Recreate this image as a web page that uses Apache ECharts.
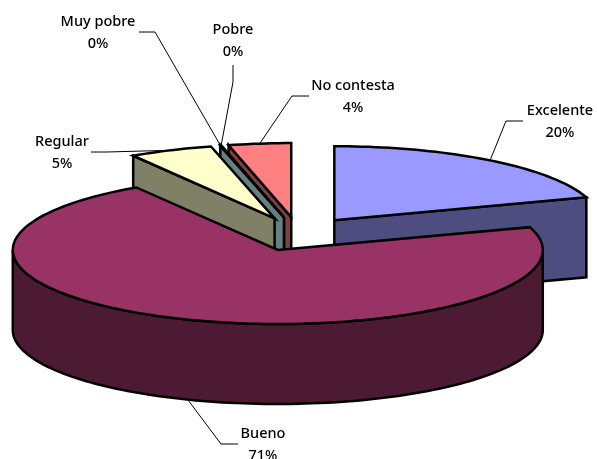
<!DOCTYPE html>
<html><head><meta charset="utf-8">
<style>html,body{margin:0;padding:0;background:#fff}#c{width:597px;height:459px}</style>
<script src="https://cdn.jsdelivr.net/npm/echarts@6/dist/echarts.min.js"></script>
</head><body><div id="c"></div>
<script>
// data, in pie order clockwise from 12 o'clock
const categories = ['Excelente','Bueno','Regular','Muy pobre','Pobre','No contesta'];
const values = [20.0, 71.05, 5.1, 0.03, 0.03, 3.8];
const topColors = ['#9999FF','#993366','#FFFFCC','#CCFFFF','#660066','#FF8080'];
const wallColors = ['#4D4D80','#4D1A33','#808066','#668080','#668080','#804040'];
// back-to-front painting order
const paintOrder = [0,5,4,3,2,1];
// layout
const pie = {cx:298.5, cy:234, rx:265, ry:74, depth:80, explode:0.23};
const labelCenters = [[560,122],[263,445],[62,153],[98,33],[233,41],[353,97]];
const leaderElbows = [[[523,121],[506,121]],[[238,444],[221,444]],[[91,152],[107,152]],[[139,32],[155,32]],[[233,65],[233,82]],[[309,96],[292,96]]];

const total = values.reduce((a,b)=>a+b,0);
const slices = []; let acc = 0;
values.forEach((v,i)=>{const s=acc/total*360; acc+=v; const e=acc/total*360; slices.push({s,e,mid:(s+e)/2});});
const rad = d=>d*Math.PI/180;
function apex(sl){const m=rad(sl.mid);return [pie.cx+Math.sin(m)*pie.rx*pie.explode, pie.cy-Math.cos(m)*pie.ry*pie.explode];}
function rim(a,ang,dy){const t=rad(ang);return [a[0]+Math.sin(t)*pie.rx, a[1]-Math.cos(t)*pie.ry+(dy||0)];}
function arc(a,from,to,dy){const p=[];const n=Math.max(1,Math.ceil((to-from)/1.5));for(let k=0;k<=n;k++)p.push(rim(a,from+(to-from)*k/n,dy));return p;}
const outline={stroke:'#000',lineWidth:2.5,lineJoin:'miter'};
const poly=(points,fill)=>({type:'polygon',silent:true,shape:{points},style:Object.assign({fill},outline)});

function renderSlice(params,api){
  const i=api.value(0), sl=slices[i], a=apex(sl), ch=[];
  const down=p=>[p[0],p[1]+pie.depth];
  if(Math.sin(rad(sl.e))>0.001){const r=rim(a,sl.e);ch.push(poly([a,r,down(r),down(a)],wallColors[i]));}
  if(Math.sin(rad(sl.s))<-0.001){const r=rim(a,sl.s);ch.push(poly([a,r,down(r),down(a)],wallColors[i]));}
  const f=Math.max(sl.s,90),t=Math.min(sl.e,270);
  if(t>f){ch.push(poly(arc(a,f,t,0).concat(arc(a,f,t,pie.depth).reverse()),wallColors[i]));}
  ch.push(poly([a].concat(arc(a,sl.s,sl.e,0)),topColors[i]));
  return {type:'group',children:ch};
}
function renderLabel(params,api){
  const i=api.value(0), sl=slices[i], a=apex(sl);
  const visibleDrop=(sl.mid>90&&sl.mid<270)?pie.depth:0;
  const end=rim(a,sl.mid,visibleDrop);
  const c=labelCenters[i];
  return {type:'group',children:[
    {type:'polyline',silent:true,shape:{points:leaderElbows[i].concat([end])},style:{fill:'none',stroke:'#000',lineWidth:1}},
    {type:'text',silent:true,style:{x:c[0],y:c[1],text:categories[i]+'\n'+Math.round(values[i]/total*100)+'%',
      fill:'#000',font:'500 14.5px "Noto Sans"',lineHeight:22,align:'center',verticalAlign:'middle'}}
  ]};
}
const chart=echarts.init(document.getElementById('c'),null,{renderer:'canvas'});
chart.setOption({
  animation:false,
  backgroundColor:'#fff',
  series:[
    {type:'custom',coordinateSystem:'none',renderItem:renderSlice,data:paintOrder.map(i=>[i]),z:2},
    {type:'custom',coordinateSystem:'none',renderItem:renderLabel,data:categories.map((c,i)=>[i]),z:3}
  ]
});
</script></body></html>
